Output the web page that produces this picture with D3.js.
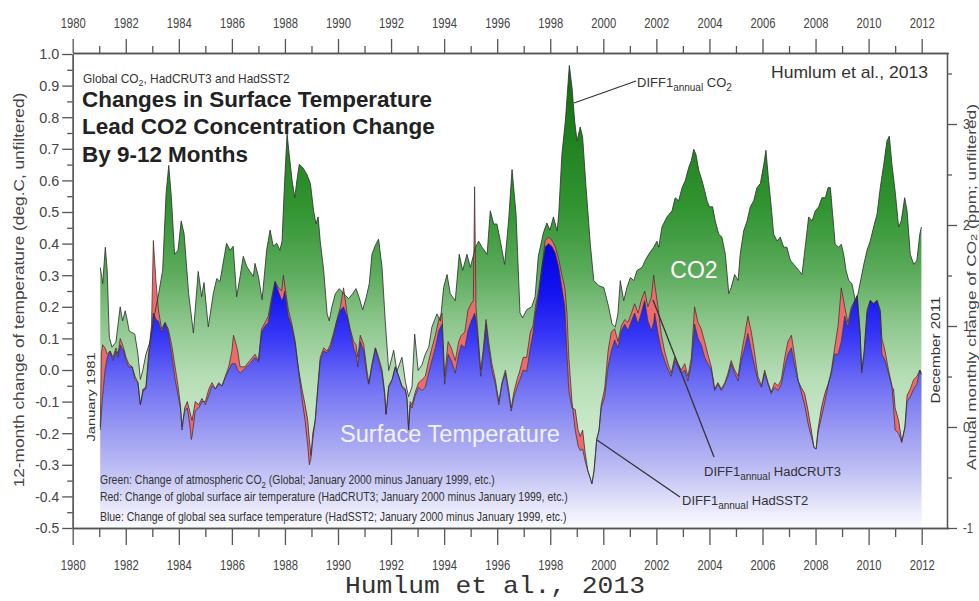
<!DOCTYPE html>
<html>
<head>
<meta charset="utf-8">
<script src="https://cdn.jsdelivr.net/npm/d3@7"></script>
<style>
body { margin: 0; background: #fff; }
svg { display: block; font-family: "Liberation Sans", Arial, sans-serif; }
</style>
</head>
<body>
<svg id="chart" width="979" height="601"></svg>
<script>
// 12-month differences (CO2 in ppm, temperatures in deg C)
var co2Years = [1981.04,1981.13,1981.23,1981.30,1981.38,1981.48,1981.63,1981.79,1981.88,1981.98,
  1982.06,1982.13,1982.34,1982.46,1982.55,1982.64,1982.76,1982.92,1983.09,1983.24,1983.39,1983.52,
  1983.62,1983.72,1983.84,1983.97,1984.09,1984.20,1984.37,1984.55,1984.73,1984.86,1984.95,1985.11,
  1985.30,1985.43,1985.55,1985.80,1985.93,1986.05,1986.18,1986.31,1986.43,1986.56,1986.68,1986.81,
  1986.87,1987.00,1987.14,1987.31,1987.44,1987.56,1987.69,1987.81,1987.89,1987.99,1988.08,1988.16,
  1988.27,1988.37,1988.45,1988.54,1988.67,1988.83,1988.96,1989.08,1989.17,1989.25,1989.33,1989.46,
  1989.59,1989.67,1989.77,1989.90,1990.05,1990.21,1990.40,1990.55,1990.68,1990.80,1990.93,1991.06,
  1991.18,1991.28,1991.41,1991.53,1991.66,1991.78,1991.91,1992.10,1992.22,1992.41,1992.54,1992.66,
  1992.79,1992.89,1993.02,1993.17,1993.29,1993.42,1993.54,1993.73,1993.86,1993.98,1994.11,1994.23,
  1994.42,1994.57,1994.70,1994.86,1994.99,1995.18,1995.30,1995.43,1995.62,1995.74,1995.87,1995.99,
  1996.12,1996.28,1996.43,1996.56,1996.71,1996.86,1996.96,1997.11,1997.30,1997.43,1997.55,1997.74,
  1997.87,1997.99,1998.12,1998.26,1998.32,1998.44,1998.57,1998.72,1998.82,1998.92,1999.01,1999.13,
  1999.22,1999.35,1999.51,1999.64,1999.83,2000.02,2000.20,2000.33,2000.45,2000.55,2000.64,2000.77,
  2000.89,2001.02,2001.15,2001.27,2001.46,2001.58,2001.71,2001.90,2002.02,2002.09,2002.21,2002.40,
  2002.59,2002.71,2002.84,2002.97,2003.09,2003.22,2003.32,2003.41,2003.49,2003.60,2003.72,2003.82,
  2003.91,2004.00,2004.12,2004.22,2004.35,2004.47,2004.60,2004.73,2004.82,2004.95,2005.08,2005.16,
  2005.29,2005.42,2005.54,2005.67,2005.79,2005.92,2006.05,2006.13,2006.23,2006.33,2006.42,2006.55,
  2006.67,2006.80,2006.92,2007.05,2007.18,2007.37,2007.49,2007.61,2007.74,2007.87,2007.99,2008.12,
  2008.24,2008.37,2008.47,2008.56,2008.62,2008.74,2008.87,2008.97,2009.06,2009.15,2009.25,2009.37,
  2009.50,2009.60,2009.82,2009.94,2010.06,2010.19,2010.32,2010.44,2010.57,2010.69,2010.78,2010.88,
  2011.01,2011.13,2011.23,2011.36,2011.45,2011.57,2011.70,2011.82,2011.93,2011.99];
var co2Ppm = [1.58,1.42,1.78,1.55,0.89,0.79,0.84,1.19,1.05,1.15,
  1.05,0.95,0.92,0.72,0.47,0.56,0.72,0.85,1.12,1.32,1.55,2.31,
  2.59,2.27,1.71,1.75,2.04,1.91,1.32,0.93,1.54,1.29,1.43,0.99,
  1.32,1.47,1.44,1.82,1.75,1.79,1.29,1.49,1.69,1.59,1.54,1.49,
  1.62,1.49,1.26,1.75,1.95,1.79,1.82,1.75,1.84,2.44,2.90,2.70,
  2.44,2.27,2.44,2.60,2.57,2.50,2.41,2.14,2.01,2.08,1.84,1.55,
  1.12,1.05,1.19,1.32,1.37,1.32,1.27,1.32,1.37,1.28,1.16,1.28,
  1.42,1.71,1.80,1.86,1.58,1.05,0.56,0.76,0.55,0.69,0.45,0.30,
  0.40,0.92,0.56,0.62,0.72,0.79,0.99,1.12,1.05,1.38,1.51,1.32,
  1.25,1.71,1.55,1.71,1.58,1.78,1.84,1.78,1.71,2.14,2.01,2.01,
  1.84,1.61,2.04,2.55,2.11,1.13,1.08,1.16,1.19,1.29,1.69,1.92,
  2.02,1.95,2.08,1.94,2.11,2.70,3.03,3.58,3.36,3.03,2.83,2.97,
  2.87,2.37,1.81,1.45,1.40,1.38,1.19,1.02,0.99,1.12,1.45,1.25,
  1.38,1.48,1.45,1.55,1.58,1.65,1.71,1.78,1.84,1.78,1.98,2.08,
  2.14,2.27,2.24,2.37,2.44,2.57,2.64,2.75,2.70,2.54,2.44,2.34,
  2.24,2.18,2.18,2.04,1.91,1.88,1.71,1.32,1.38,1.51,1.45,1.71,
  1.94,2.04,2.18,2.24,2.37,2.41,2.60,2.74,2.44,2.18,1.91,1.84,
  1.88,1.78,1.78,1.65,1.61,1.55,1.51,1.78,2.08,2.04,2.14,2.18,
  2.27,2.27,2.37,2.37,2.18,1.81,1.78,1.81,1.71,1.55,1.45,1.42,
  1.25,1.32,1.61,1.75,1.84,1.98,2.11,2.37,2.60,2.83,2.88,2.60,
  2.31,1.98,2.04,2.27,2.14,1.71,1.61,1.65,1.91,1.98];

var tempYears = [1981.04,1981.08,1981.13,1981.22,1981.30,1981.41,1981.52,1981.63,1981.71,1981.79,1981.92,
  1982.01,1982.11,1982.24,1982.35,1982.46,1982.55,1982.65,1982.76,1982.88,1982.97,
  1983.04,1983.14,1983.23,1983.35,1983.48,1983.60,1983.73,1983.86,1983.97,
  1984.06,1984.12,1984.22,1984.32,1984.41,1984.47,1984.50,1984.62,1984.75,1984.87,
  1985.00,1985.13,1985.25,1985.38,1985.50,1985.63,1985.75,1985.88,
  1986.00,1986.06,1986.13,1986.22,1986.31,1986.49,1986.68,1986.87,
  1987.00,1987.12,1987.25,1987.37,1987.50,1987.63,1987.75,1987.88,1987.94,1987.99,
  1988.13,1988.25,1988.39,1988.52,1988.64,1988.76,1988.86,1988.92,1988.98,
  1989.05,1989.14,1989.25,1989.33,1989.46,1989.59,1989.71,1989.84,1989.96,
  1990.09,1990.21,1990.34,1990.46,1990.59,1990.68,1990.75,1990.84,1990.97,
  1991.09,1991.16,1991.28,1991.41,1991.53,1991.66,1991.76,1991.81,1991.91,
  1992.04,1992.16,1992.29,1992.41,1992.54,1992.60,1992.66,1992.72,1992.79,1992.91,
  1993.04,1993.17,1993.29,1993.42,1993.54,1993.67,1993.80,1993.92,
  1994.02,1994.15,1994.27,1994.42,1994.55,1994.65,1994.78,1994.90,
  1995.02,1995.10,1995.15,1995.20,1995.28,1995.38,1995.48,1995.58,1995.68,1995.80,1995.93,
  1996.06,1996.18,1996.31,1996.43,1996.53,1996.63,1996.75,1996.86,1996.98,
  1997.11,1997.25,1997.35,1997.44,1997.56,1997.69,1997.81,1997.94,
  1998.07,1998.19,1998.32,1998.44,1998.55,1998.63,1998.70,1998.82,1998.94,
  1999.05,1999.13,1999.22,1999.32,1999.42,1999.50,1999.57,1999.65,1999.75,1999.84,1999.92,
  2000.05,2000.18,2000.30,2000.43,2000.55,2000.68,2000.81,2000.93,
  2001.06,2001.18,2001.31,2001.43,2001.56,2001.68,2001.81,2001.90,2001.94,
  2002.06,2002.19,2002.31,2002.44,2002.56,2002.69,2002.81,2002.94,
  2003.07,2003.19,2003.32,2003.44,2003.57,2003.69,2003.82,2003.94,
  2004.07,2004.20,2004.32,2004.45,2004.58,2004.70,2004.82,2004.95,
  2005.08,2005.20,2005.33,2005.45,2005.58,2005.71,2005.83,2005.96,
  2006.08,2006.21,2006.33,2006.46,2006.59,2006.71,2006.84,2006.96,
  2007.09,2007.22,2007.34,2007.46,2007.59,2007.72,2007.84,2007.94,
  2008.02,2008.09,2008.22,2008.35,2008.47,2008.60,2008.72,2008.85,2008.97,
  2009.10,2009.22,2009.35,2009.48,2009.57,2009.68,2009.74,2009.83,2009.94,
  2010.06,2010.19,2010.32,2010.44,2010.50,2010.62,2010.75,2010.88,2010.94,
  2011.00,2011.13,2011.25,2011.37,2011.45,2011.57,2011.70,2011.82,2011.93,2011.99];
var hadsst2 = [-0.19,-0.14,-0.08,0.00,0.04,0.06,0.03,0.06,0.04,0.08,0.06,
  0.03,0.01,0.01,-0.03,-0.04,-0.11,-0.06,-0.06,0.05,0.12,
  0.18,0.16,0.155,0.12,0.15,0.12,0.05,-0.03,-0.08,
  -0.12,-0.19,-0.12,-0.10,-0.13,-0.15,-0.16,-0.10,-0.11,-0.09,
  -0.11,-0.08,-0.05,-0.06,-0.045,-0.05,-0.025,0.00,
  0.02,0.02,0.02,0.00,-0.01,0.005,0.02,0.04,
  0.025,0.12,0.14,0.15,0.22,0.28,0.25,0.22,0.23,0.25,
  0.17,0.14,0.08,0.00,-0.06,-0.11,-0.16,-0.22,-0.27,
  -0.20,-0.16,-0.05,0.03,0.06,0.055,0.07,0.11,0.155,
  0.19,0.20,0.17,0.125,0.07,0.05,0.01,0.09,0.06,
  -0.02,-0.045,0.01,0.07,0.03,-0.01,-0.08,-0.14,-0.055,
  -0.03,0.01,-0.02,-0.055,-0.065,-0.09,-0.19,-0.11,-0.12,-0.08,
  -0.055,-0.065,-0.055,-0.01,0.03,0.07,0.125,0.145,
  -0.045,0.05,0.03,-0.01,0.05,0.08,0.07,0.125,
  0.155,0.17,0.18,0.16,0.09,-0.02,0.05,0.145,0.07,0.00,-0.045,
  -0.11,-0.045,-0.01,-0.075,-0.13,-0.085,-0.055,-0.03,0.00,
  -0.005,0.07,0.115,0.18,0.24,0.325,0.39,0.40,
  0.39,0.37,0.325,0.26,0.20,0.05,-0.065,-0.12,-0.125,
  -0.19,-0.21,-0.19,-0.265,-0.32,-0.34,-0.36,-0.32,-0.22,-0.19,-0.12,
  -0.085,0.01,0.06,0.095,0.07,0.125,0.145,0.125,
  0.155,0.18,0.145,0.18,0.22,0.155,0.125,0.15,0.18,
  0.115,0.06,0.03,0.00,-0.02,0.03,0.01,-0.01,
  0.00,-0.035,0.02,0.145,0.10,0.08,0.04,0.02,
  0.00,-0.065,-0.045,-0.065,-0.045,-0.02,0.02,-0.01,
  -0.035,0.03,0.07,0.115,0.06,0.01,-0.035,-0.055,
  -0.01,-0.045,-0.075,-0.055,-0.065,-0.045,0.01,0.05,
  0.07,0.01,-0.035,-0.055,-0.075,-0.13,-0.19,-0.245,
  -0.25,-0.19,-0.12,-0.075,-0.045,-0.01,0.05,0.05,0.09,
  0.17,0.135,0.19,0.22,0.235,0.115,-0.01,0.05,0.18,
  0.22,0.21,0.22,0.18,0.05,0.03,-0.01,-0.055,-0.06,
  -0.12,-0.16,-0.225,-0.18,-0.10,-0.085,-0.06,-0.045,0.00,-0.015];
var hadcrut3 = [-0.18,0.05,0.08,0.07,0.05,0.06,0.04,0.07,0.05,0.10,0.07,
  0.04,0.02,0.01,-0.02,-0.04,-0.11,-0.07,-0.05,0.07,0.14,
  0.41,0.28,0.19,0.13,0.15,0.13,0.08,0.01,-0.05,
  -0.11,-0.18,-0.13,-0.12,-0.17,-0.22,-0.21,-0.13,-0.12,-0.10,
  -0.10,-0.06,-0.04,-0.06,-0.04,-0.05,-0.02,0.01,
  0.06,0.11,0.09,0.06,0.01,0.01,0.03,0.05,
  0.03,0.13,0.15,0.17,0.23,0.28,0.26,0.25,0.30,0.27,
  0.19,0.15,0.09,-0.01,-0.09,-0.16,-0.24,-0.30,-0.28,
  -0.22,-0.16,-0.04,0.04,0.07,0.06,0.08,0.12,0.16,
  0.20,0.26,0.18,0.13,0.09,0.08,0.04,0.11,0.08,
  0.00,-0.04,0.02,0.07,0.04,0.00,-0.07,-0.14,-0.05,
  -0.03,0.01,-0.02,-0.05,-0.06,-0.09,-0.19,-0.10,-0.11,-0.07,
  -0.04,-0.03,-0.02,0.03,0.07,0.11,0.16,0.18,
  -0.02,0.09,0.07,0.03,0.09,0.11,0.12,0.19,
  0.21,0.22,0.58,0.20,0.11,0.00,0.07,0.16,0.09,0.02,-0.03,
  -0.10,-0.04,0.00,-0.06,-0.12,-0.07,-0.03,0.00,0.04,
  0.04,0.12,0.14,0.20,0.25,0.33,0.41,0.42,
  0.41,0.39,0.35,0.30,0.26,0.18,0.04,-0.10,-0.19,
  -0.24,-0.255,-0.25,-0.29,-0.32,-0.34,-0.36,-0.32,-0.22,-0.19,-0.11,
  -0.06,0.06,0.12,0.13,0.09,0.14,0.16,0.15,
  0.18,0.21,0.18,0.22,0.25,0.20,0.23,0.30,0.27,
  0.20,0.11,0.06,0.02,-0.01,0.04,0.02,0.00,
  0.02,-0.02,0.04,0.20,0.15,0.13,0.09,0.05,
  0.01,-0.06,-0.04,-0.06,-0.04,-0.01,0.03,0.00,
  -0.02,0.05,0.11,0.17,0.12,0.05,-0.02,-0.05,
  0.00,-0.04,-0.07,-0.04,-0.05,-0.03,0.04,0.09,
  0.11,0.04,-0.03,-0.07,-0.11,-0.17,-0.21,-0.245,
  -0.25,-0.20,-0.15,-0.10,-0.05,0.00,0.07,0.14,0.26,
  0.20,0.15,0.20,0.22,0.235,0.12,0.00,0.06,0.19,
  0.22,0.21,0.22,0.19,0.10,0.06,0.00,-0.05,-0.12,
  -0.19,-0.20,-0.23,-0.18,-0.08,-0.06,-0.03,-0.02,0.00,-0.01];

var majorYears = d3.range(1980, 2013, 2);
var minorYears = d3.range(1981, 2013, 2);
var leftTicks = d3.range(-5, 11).map(d => d / 10);
var leftMinor = d3.range(-9, 20, 2).map(d => d / 20);
var rightTicks = [-1, 0, 1, 2, 3];
var rightMinor = [-0.5, 0.5, 1.5, 2.5, 3.5];

var svg = d3.select("#chart");
var x = d3.scaleLinear().domain([1980, 2013]).range([72.7, 948.2]);
var yL = d3.scaleLinear().domain([-0.5, 1.0]).range([528, 54]);
var yR = d3.scaleLinear().domain([-1, 3.7]).range([528, 53.3]);

var co2 = co2Years.map((d, i) => [d, co2Ppm[i]]);
var temps = tempYears.map((d, i) => ({yr: d, sst: hadsst2[i], crut: hadcrut3[i]}));

// gradients
var defs = svg.append("defs");
function grad(id, y1, y2, stops) {
    var g = defs.append("linearGradient").attr("id", id)
	.attr("gradientUnits", "userSpaceOnUse")
	.attr("x1", 0).attr("x2", 0).attr("y1", y1).attr("y2", y2);
    stops.forEach(s => g.append("stop").attr("offset", s[0]).attr("stop-color", s[1]));
}
grad("greenGrad", 60, 528, [[0, "#0d6b0d"], [0.15, "#1d7f1d"], [0.32, "#329532"], [0.45, "#5aaa5a"],
			    [0.56, "#8cc68c"], [0.68, "#b6deb6"], [0.82, "#cfeccf"], [1, "#e8f8e8"]]);
grad("blueGrad", 235, 528, [[0, "#0000e0"], [0.2, "#1414f0"], [0.35, "#3838f6"], [0.5, "#6c6cf4"],
			    [0.65, "#9696f2"], [0.8, "#bebef4"], [0.92, "#e4e4fa"], [1, "#fbfbff"]]);

// CO2 area down to the bottom, SST over it, HadCRUT3 band between the two temperature series
svg.append("path")
    .attr("d", d3.area().x(d => x(d[0])).y0(528).y1(d => yR(d[1]))(co2))
    .attr("fill", "url(#greenGrad)");
svg.append("path")
    .attr("d", d3.area().x(d => x(d.yr)).y0(528).y1(d => yL(d.sst))(temps))
    .attr("fill", "url(#blueGrad)");
svg.append("path")
    .attr("d", d3.area().x(d => x(d.yr)).y0(d => yL(d.sst)).y1(d => yL(d.crut))(temps))
    .attr("fill", "#ef6b6b");

svg.append("path")
    .attr("d", d3.line().x(d => x(d.yr)).y(d => yL(d.sst))(temps))
    .attr("fill", "none").attr("stroke", "#2a2a3a").attr("stroke-width", 0.9).attr("opacity", 0.8);
svg.append("path")
    .attr("d", d3.line().x(d => x(d.yr)).y(d => yL(d.crut))(temps))
    .attr("fill", "none").attr("stroke", "#3a2a2a").attr("stroke-width", 0.9).attr("opacity", 0.8);
svg.append("path")
    .attr("d", d3.line().x(d => x(d[0])).y(d => yR(d[1]))(co2))
    .attr("fill", "none").attr("stroke", "#333").attr("stroke-width", 1).attr("opacity", 0.85);

// axes
function styleAxis(g) {
    g.attr("font-family", "Liberation Sans, Arial, sans-serif").attr("font-size", 15);
    g.selectAll(".domain, .tick line").attr("stroke", "#555").attr("stroke-width", 1.3);
    g.selectAll("text").attr("fill", "#444");
}
var yearFmt = d3.format("d");
var topAx = svg.append("g").attr("transform", "translate(0,53)")
    .call(d3.axisTop(x).tickValues(majorYears).tickSize(14).tickSizeOuter(0).tickPadding(11).tickFormat(yearFmt));
svg.append("g").attr("transform", "translate(0,53)")
    .call(d3.axisTop(x).tickValues(minorYears).tickSize(7).tickSizeOuter(0).tickFormat("")).call(styleAxis);
var botAx = svg.append("g").attr("transform", "translate(0,528)")
    .call(d3.axisBottom(x).tickValues(majorYears).tickSize(17).tickSizeOuter(0).tickPadding(14).tickFormat(yearFmt));
svg.append("g").attr("transform", "translate(0,528)")
    .call(d3.axisBottom(x).tickValues(minorYears).tickSize(9).tickSizeOuter(0).tickFormat("")).call(styleAxis);
[topAx, botAx].forEach(a => {
    a.call(styleAxis);
    a.selectAll("text").attr("textLength", 25).attr("lengthAdjust", "spacingAndGlyphs");
});

var leftAx = svg.append("g").attr("transform", "translate(72.7,0)")
    .call(d3.axisLeft(yL).tickValues(leftTicks).tickSize(10.5).tickSizeOuter(0).tickPadding(3).tickFormat(d => d.toFixed(1)))
    .call(styleAxis);
leftAx.selectAll("text").attr("textLength", d => d < 0 ? 24 : 20).attr("lengthAdjust", "spacingAndGlyphs");
svg.append("g").attr("transform", "translate(72.7,0)")
    .call(d3.axisLeft(yL).tickValues(leftMinor).tickSize(5.5).tickSizeOuter(0).tickFormat("")).call(styleAxis);

var rightAx = svg.append("g").attr("transform", "translate(947,0)")
    .call(d3.axisRight(yR).tickValues(rightTicks).tickSize(10).tickSizeOuter(0).tickPadding(6).tickFormat(d => String(d)))
    .call(styleAxis);
rightAx.selectAll("text").attr("textLength", d => d < 0 ? 10 : 7).attr("lengthAdjust", "spacingAndGlyphs");
svg.append("g").attr("transform", "translate(947,0)")
    .call(d3.axisRight(yR).tickValues(rightMinor).tickSize(5).tickSizeOuter(0).tickFormat("")).call(styleAxis);

// text helper: parts are strings, or [string] for a subscript
function addText(o) {
    var g = svg.append("g").attr("transform", "translate(" + o.x + "," + o.y + ")" + (o.rot ? " rotate(" + o.rot + ")" : ""));
    var t = g.append("text")
	.attr("text-anchor", o.anchor || "start")
	.attr("dy", o.dy || 0)
	.attr("fill", o.fill || "#333")
	.style("font-size", o.size + "px")
	.style("font-weight", o.weight || "normal");
    if (o.family) t.style("font-family", o.family);
    var low = false, shift = o.subShift || o.size * 0.3;
    o.parts.forEach(p => {
	var sub = Array.isArray(p);
	var s = t.append("tspan").text(sub ? p[0] : p);
	if (sub) {
	    s.style("font-size", (o.subSize || o.size * 0.75) + "px").attr("dy", low ? 0 : shift);
	    low = true;
	} else if (low) {
	    s.attr("dy", -shift);
	    low = false;
	}
    });
    if (o.width) {
	var w = t.node().getComputedTextLength();
	t.attr("transform", "scale(" + (o.width / w) + ",1)");
    }
    return t;
}

addText({x: 83, y: 83, size: 12, width: 207, subShift: 2.5, parts: ["Global CO", ["2"], ", HadCRUT3 and HadSST2"]});
addText({x: 82, y: 107, size: 22, weight: "bold", fill: "#222", width: 350, parts: ["Changes in Surface Temperature"]});
addText({x: 82, y: 134, size: 22, weight: "bold", fill: "#222", width: 353, parts: ["Lead CO2 Concentration Change"]});
addText({x: 82, y: 162, size: 22, weight: "bold", fill: "#222", width: 166, parts: ["By 9-12 Months"]});
addText({x: 771, y: 78, size: 17, width: 157, parts: ["Humlum et al., 2013"]});

addText({x: 694, y: 278, size: 23, anchor: "middle", fill: "#fff", parts: ["CO2"]});
addText({x: 340, y: 442, size: 23, fill: "#f2f2ff", width: 220, parts: ["Surface Temperature"]});

addText({x: 100, y: 484, size: 12, width: 395,
	 parts: ["Green: Change of atmospheric CO", ["2"], " (Global; January 2000 minus January 1999, etc.)"]});
addText({x: 100, y: 501, size: 12, width: 468,
	 parts: ["Red: Change of global surface air temperature (HadCRUT3; January 2000 minus January 1999, etc.)"]});
addText({x: 100, y: 521, size: 12, width: 467,
	 parts: ["Blue: Change of global sea surface temperature (HadSST2; January 2000 minus January 1999, etc.)"]});

// leader lines and their labels
var leaders = [[574, 103, 636, 81], [653, 300, 714, 457], [597, 440, 680, 497]];
svg.selectAll(".leader").data(leaders).enter().append("line")
    .attr("x1", d => d[0]).attr("y1", d => d[1]).attr("x2", d => d[2]).attr("y2", d => d[3])
    .attr("stroke", "#333").attr("stroke-width", 1.3);
addText({x: 637, y: 87, size: 13, subSize: 10, parts: ["DIFF1", ["annual"], " CO", ["2"]]});
addText({x: 704, y: 476, size: 13, subSize: 10, parts: ["DIFF1", ["annual"], " HadCRUT3"]});
addText({x: 682, y: 505, size: 13, subSize: 10, parts: ["DIFF1", ["annual"], " HadSST2"]});

// rotated labels
addText({x: 91, y: 397, rot: -90, size: 11, anchor: "middle", dy: "0.35em", width: 89, parts: ["January 1981"]});
addText({x: 936, y: 350, rot: -90, size: 12, anchor: "middle", dy: "0.35em", width: 107, parts: ["December 2011"]});
addText({x: 19, y: 290, rot: -90, size: 14, anchor: "middle", dy: "0.35em", width: 395, fill: "#444",
	 parts: ["12-month change of temperature (deg.C, unfiltered)"]});
addText({x: 971, y: 287, rot: -90, size: 13, anchor: "middle", dy: "0.35em", width: 366, fill: "#444",
	 subShift: 1.5, parts: ["Annual monthly change of CO", ["2"], " (ppm; unfiltered)"]});

addText({x: 495, y: 593, size: 23, anchor: "middle", width: 300, fill: "#333",
	 family: "Liberation Mono, DejaVu Sans Mono, monospace", parts: ["Humlum et al., 2013"]});
</script>
</body>
</html>
